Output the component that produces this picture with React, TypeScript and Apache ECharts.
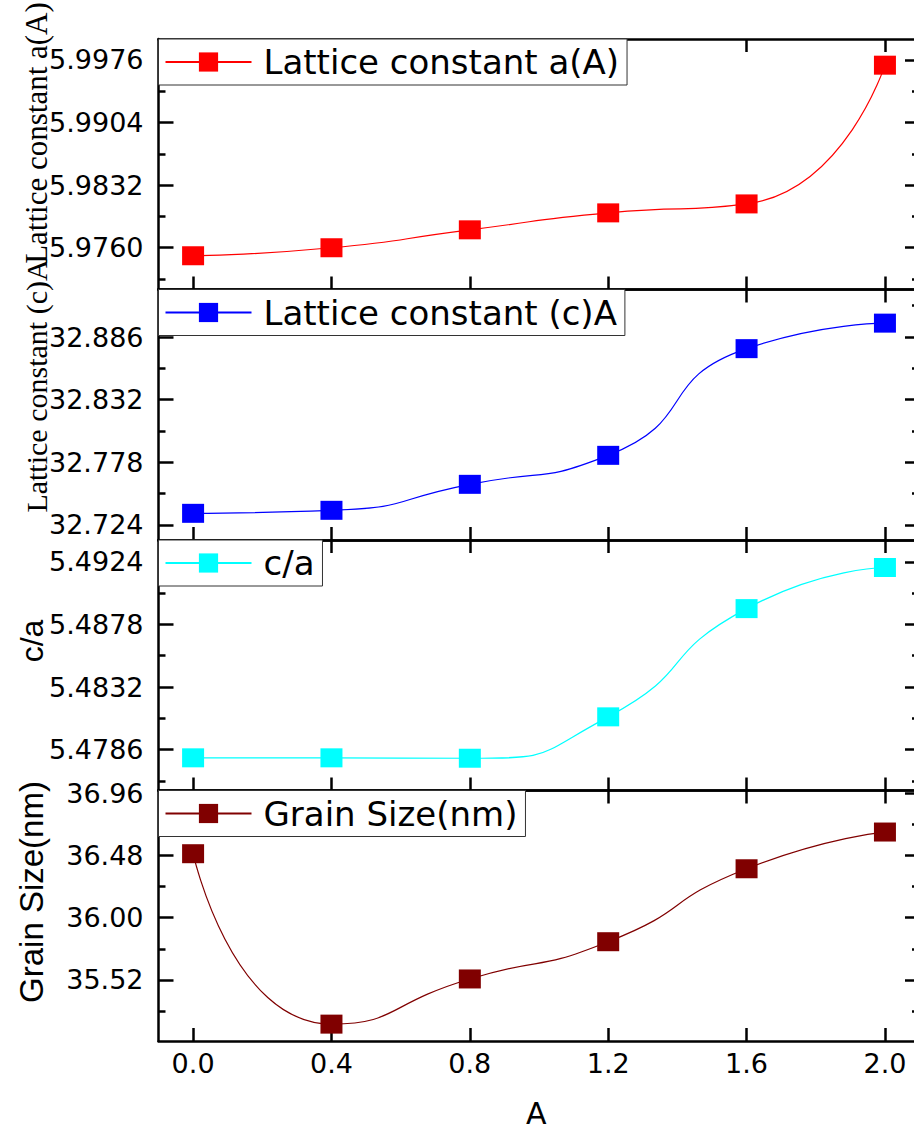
import React, { useEffect, useRef } from "react";
import * as echarts from "echarts";

// ---- data ----
const xValues = [0.0, 0.4, 0.8, 1.2, 1.6, 2.0];
const xTicks = [0.0, 0.4, 0.8, 1.2, 1.6, 2.0];

const latticeA = [5.97508, 5.976, 5.97806, 5.98001, 5.98104, 5.99699];
const latticeC = [32.734, 32.7366, 32.759, 32.784, 32.876, 32.898];
const ratioCA = [5.478, 5.478, 5.47797, 5.48101, 5.48896, 5.49198];
const grainSize = [36.493, 35.18, 35.528, 35.815, 36.377, 36.66];

const aTicks = [5.976, 5.9832, 5.9904, 5.9976];
const aMinor = [5.9724, 5.9796, 5.9868, 5.994];
const cTicks = [32.724, 32.778, 32.832, 32.886];
const cMinor = [32.751, 32.805, 32.859, 32.913];
const caTicks = [5.4786, 5.4832, 5.4878, 5.4924];
const caMinor = [5.4763, 5.4809, 5.4855, 5.4901];
const gTicks = [35.52, 36.0, 36.48, 36.96];
const gMinor = [35.28, 35.76, 36.24, 36.72];

const seriesNames = [
  "Lattice constant a(A)",
  "Lattice constant (c)A",
  "c/a",
  "Grain Size(nm)",
];
const axisTitles = [
  "Lattice constant a(A)",
  "Lattice constant (c)A",
  "c/a",
  "Grain Size(nm)",
];
const xTitle = "A";
const colors = ["#ff0000", "#0000ff", "#00ffff", "#800000"];

const panels = [
  { name: seriesNames[0], values: latticeA, ticks: aTicks, minor: aMinor, min: 5.9712, max: 6.0, digits: 4 },
  { name: seriesNames[1], values: latticeC, ticks: cTicks, minor: cMinor, min: 32.711, max: 32.927, digits: 3 },
  { name: seriesNames[2], values: ratioCA, ticks: caTicks, minor: caMinor, min: 5.4756, max: 5.494, digits: 4 },
  { name: seriesNames[3], values: grainSize, ticks: gTicks, minor: gMinor, min: 35.05, max: 36.98, digits: 2 },
];

export default function App() {
  const ref = useRef<HTMLDivElement>(null);

  useEffect(() => {
    if (!ref.current) return;
    const chart = echarts.init(ref.current, undefined, { renderer: "svg" });

    const GRID_LEFT = 158.5;
    const GRID_W = 755.5;
    const GRID_TOP = 39;
    const GRID_H = 250.5;
    const lineW = 2.5;
    const tickFont = "DejaVu Sans";

    const grid: any[] = [];
    const xAxis: any[] = [];
    const yAxis: any[] = [];
    const series: any[] = [];
    const legend: any[] = [];

    panels.forEach((p, i) => {
      const top = GRID_TOP + i * GRID_H;
      grid.push({ left: GRID_LEFT, width: GRID_W, top, height: GRID_H, containLabel: false });

      const isLast = i === panels.length - 1;
      ["bottom", "top"].forEach((pos) => {
        const main = pos === "bottom";
        xAxis.push({
          type: "value",
          gridIndex: i,
          position: pos,
          min: -0.1,
          max: 2.084,
          name: main && isLast ? xTitle : "",
          nameLocation: "middle",
          nameGap: 60,
          nameTextStyle: { fontSize: 30, fontFamily: tickFont, color: "#000", lineHeight: 24 },
          axisLine: { show: true, onZero: false, lineStyle: { color: "#000", width: lineW } },
          axisTick: { show: true, inside: true, length: 13, customValues: xTicks, lineStyle: { color: "#000", width: lineW } },
          axisLabel: {
            show: main && isLast,
            customValues: xTicks,
            formatter: (v: number) => v.toFixed(1),
            fontSize: 27,
            fontFamily: tickFont,
            color: "#000",
            margin: 9,
          },
          splitLine: { show: false },
        });
      });

      const yBase = yAxis.length;
      // left major (labels)
      yAxis.push({
        type: "value",
        gridIndex: i,
        position: "left",
        min: p.min,
        max: p.max,
        axisLine: { show: true, onZero: false, lineStyle: { color: "#000", width: lineW } },
        axisTick: { show: true, inside: true, length: 15, customValues: p.ticks, lineStyle: { color: "#000", width: lineW } },
        axisLabel: {
          show: true,
          customValues: p.ticks,
          formatter: (v: number) => v.toFixed(p.digits),
          fontSize: 27,
          fontFamily: tickFont,
          color: "#000",
          margin: 15,
        },
        splitLine: { show: false },
      });
      // right major (axis line lies just outside the picture)
      yAxis.push({
        type: "value",
        gridIndex: i,
        position: "right",
        min: p.min,
        max: p.max,
        axisLine: { show: false, onZero: false },
        axisTick: { show: true, inside: true, length: 9, customValues: p.ticks, lineStyle: { color: "#000", width: lineW } },
        axisLabel: { show: false },
        splitLine: { show: false },
      });
      // left minor
      yAxis.push({
        type: "value",
        gridIndex: i,
        position: "left",
        min: p.min,
        max: p.max,
        axisLine: { show: false, onZero: false },
        axisTick: { show: true, inside: true, length: 7, customValues: p.minor, lineStyle: { color: "#000", width: lineW } },
        axisLabel: { show: false },
        splitLine: { show: false },
      });
      // right minor
      yAxis.push({
        type: "value",
        gridIndex: i,
        position: "right",
        min: p.min,
        max: p.max,
        axisLine: { show: false, onZero: false },
        axisTick: { show: true, inside: true, length: 2, customValues: p.minor, lineStyle: { color: "#000", width: lineW } },
        axisLabel: { show: false },
        splitLine: { show: false },
      });

      series.push({
        name: p.name,
        type: "line",
        xAxisIndex: i * 2,
        yAxisIndex: yBase,
        data: xValues.map((x, j) => [x, p.values[j]]),
        smooth: 0.6,
        symbol: "rect",
        symbolSize: [22, 19],
        lineStyle: { color: colors[i], width: 1.2 },
        itemStyle: { color: colors[i] },
        z: 3,
      });

      legend.push({
        data: [p.name],
        left: 158.5,
        top,
        orient: "horizontal",
        itemWidth: 86,
        itemHeight: 24,
        padding: [6, 8, 6, 6],
        borderColor: "#333",
        borderWidth: 1,
        borderRadius: 0,
        backgroundColor: "#fff",
        selectedMode: false,
        textStyle: { fontSize: 34, fontFamily: tickFont, color: "#000", padding: [0, 0, 0, 7] },
        z: 5,
      });
    });

    const titlePos = [
      { x: 36, y: 133, size: 31, family: "Liberation Serif" },
      { x: 36, y: 386, size: 30, family: "Liberation Serif" },
      { x: 32, y: 641, size: 32, family: "Liberation Sans" },
      { x: 31, y: 892, size: 33, family: "Liberation Sans" },
    ];

    const graphic = axisTitles.map((t, i) => ({
      type: "text",
      x: titlePos[i].x,
      y: titlePos[i].y,
      rotation: Math.PI / 2,
      z: 10,
      style: {
        text: t,
        fontSize: titlePos[i].size,
        fontFamily: titlePos[i].family,
        fill: "#000",
        align: "center",
        verticalAlign: "middle",
      },
    }));

    chart.setOption({
      animation: false,
      backgroundColor: "#fff",
      grid,
      xAxis,
      yAxis,
      series,
      legend,
      graphic,
    });

    return () => chart.dispose();
  }, []);

  return (
    <div
      ref={ref}
      style={{ position: "absolute", left: 0, top: 0, width: 914, height: 1131 }}
    />
  );
}
